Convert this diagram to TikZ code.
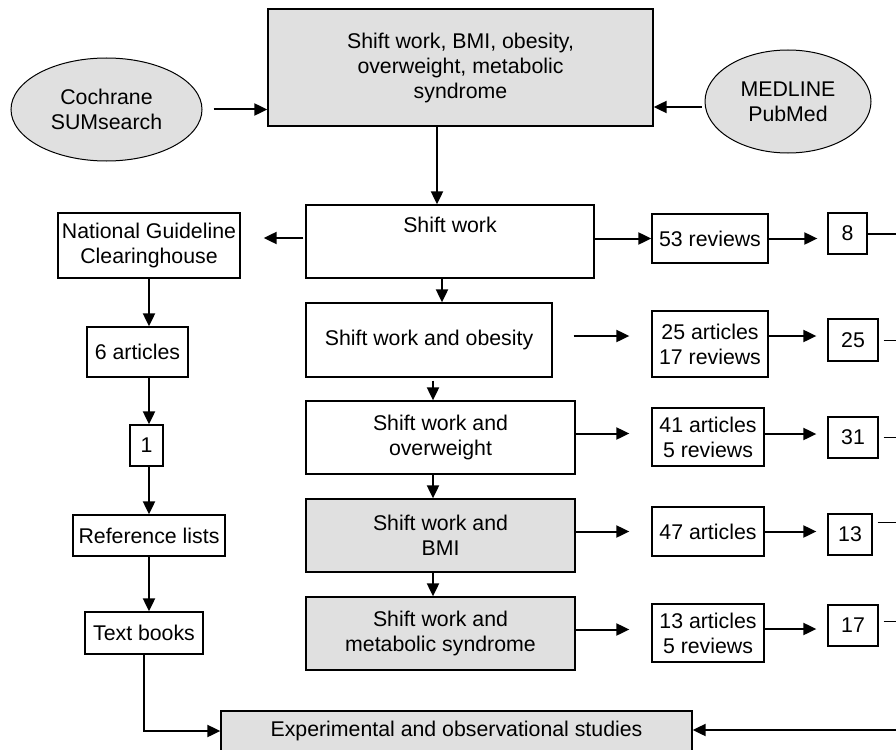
\documentclass[tikz,border=0pt]{standalone}
\usepackage{fontspec}
\setmainfont{Liberation Sans}
\usetikzlibrary{arrows.meta,shapes.geometric}
\definecolor{boxgray}{RGB}{224,224,224}
\begin{document}
\begin{tikzpicture}[x=1pt,y=-1pt,
box/.style={draw,line width=1.3pt,inner sep=0pt,align=center,font=\fontsize{21.3}{25}\selectfont},
graybox/.style={box,fill=boxgray},
src/.style={ellipse,draw,line width=1pt,fill=boxgray,inner sep=0pt,align=center,font=\fontsize{21.3}{25}\selectfont},
arr/.style={line width=2pt,-{Triangle[length=13pt,width=12pt]}},
outline/.style={line width=2pt},
thinline/.style={line width=1pt}]
\useasboundingbox (0,0) rectangle (896,749);

\node[graybox,minimum width=385pt,minimum height=117pt] (top) at (460.5,67.5) {Shift work, BMI, obesity,\\overweight, metabolic\\syndrome};
\node[src,minimum width=191pt,minimum height=103pt] (coch) at (106.5,109.5) {Cochrane\\SUMsearch};
\node[src,minimum width=166pt,minimum height=103pt] (med) at (788,101.5) {MEDLINE\\PubMed};

\node[box,minimum width=288pt,minimum height=73pt,text depth=33pt] (shift) at (450,241.5) {Shift work};
\node[box,minimum width=246pt,minimum height=74pt] (obes) at (429,340) {Shift work and obesity};
\node[box,minimum width=269pt,minimum height=73pt] (over) at (440.5,437.5) {Shift work and\\overweight};
\node[graybox,minimum width=269pt,minimum height=73pt] (bmi) at (440.5,535.5) {Shift work and\\BMI};
\node[graybox,minimum width=269pt,minimum height=73pt] (meta) at (440.5,633.5) {Shift work and\\metabolic syndrome};

\node[box,minimum width=182pt,minimum height=65pt] (ngc) at (149,245.5) {National Guideline\\Clearinghouse};
\node[box,minimum width=101pt,minimum height=50pt] (six) at (137.5,352) {6 articles};
\node[box,minimum width=33pt,minimum height=41pt] (one) at (146.5,445.5) {1};
\node[box,minimum width=152pt,minimum height=41pt] (refs) at (149,535.5) {Reference lists};
\node[box,minimum width=118pt,minimum height=42pt] (books) at (144,633) {Text books};

\node[box,minimum width=116pt,minimum height=49pt] (rev) at (710,238.5) {53 reviews};
\node[box,minimum width=116pt,minimum height=66pt] (obesn) at (710,344) {25 articles\\17 reviews};
\node[box,minimum width=112pt,minimum height=58pt] (overn) at (708,437) {41 articles\\5 reviews};
\node[box,minimum width=112pt,minimum height=49pt] (bmin) at (708,531.5) {47 articles};
\node[box,minimum width=112pt,minimum height=58pt] (metan) at (708,633) {13 articles\\5 reviews};

\node[box,minimum width=39pt,minimum height=41pt] (kept1) at (847.5,233.5) {8};
\node[box,minimum width=50pt,minimum height=42pt] (kept2) at (853,340) {25};
\node[box,minimum width=50pt,minimum height=41pt] (kept3) at (853,437.5) {31};
\node[box,minimum width=44pt,minimum height=41pt] (kept4) at (850,534.5) {13};
\node[box,minimum width=50pt,minimum height=41pt] (kept5) at (853,625.5) {17};

\node[graybox,minimum width=471pt,minimum height=40pt] (exp) at (456.5,731) {Experimental and observational studies};
\coordinate (rim) at (896,730);

\draw[arr,shorten <=11pt] (coch.east) -- (coch.east -| top.west);
\draw[arr,shorten <=3pt] ([yshift=-5.5pt]med.west) -- ([yshift=-5.5pt]med.west -| top.east);
\draw[arr] ([xshift=-23.5pt]top.south) -- ([xshift=-23.5pt]top.south |- shift.north);
\draw[arr,shorten <=2pt,shorten >=23pt] ([yshift=3.5pt]shift.west) -- ([yshift=3.5pt]shift.west -| ngc.east);
\draw[arr] ([yshift=3pt]shift.east) -- ([yshift=3pt]shift.east -| rev.west);
\draw[arr,shorten >=10pt] (rev.east) -- (rev.east -| kept1.west);
\draw[outline] (kept1.east) -- (kept1.east -| rim);

\draw[arr] ([xshift=-8pt]shift.south) -- ([xshift=-8pt]shift.south |- obes.north);
\draw[arr,shorten <=3pt] ([xshift=4pt]obes.south) -- ([xshift=4pt]obes.south |- over.north);
\draw[arr] ([xshift=-7.5pt]over.south) -- ([xshift=-7.5pt]over.south |- bmi.north);
\draw[arr] ([xshift=-7.5pt]bmi.south) -- ([xshift=-7.5pt]bmi.south |- meta.north);

\draw[arr,shorten <=21pt,shorten >=22pt] ([yshift=4pt]obes.east) -- ([yshift=4pt]obes.east -| obesn.west);
\foreach \a/\b in {over/overn,bmi/bmin,meta/metan}
  \draw[arr,shorten >=22pt] ([yshift=4pt]\a.east) -- ([yshift=4pt]\a.east -| \b.west);
\foreach \a/\b/\s in {obesn/kept2/8,overn/kept3/3,bmin/kept4/0,metan/kept5/4}
  \draw[arr,shorten >=11pt] ([yshift=\s pt]\a.east) -- ([yshift=\s pt]\a.east -| \b.west);
\foreach \b/\s in {kept2/0,kept3/0,kept4/12.5,kept5/4.5}
  \draw[thinline,shorten <=5pt] ([yshift=\s pt]\b.east) -- ([yshift=\s pt]\b.east -| rim);

\draw[arr] (ngc.south) -- (ngc.south |- six.north);
\draw[arr] (six.south -| ngc) -- (one.north -| ngc);
\draw[arr] (one.south -| ngc) -- (refs.north -| ngc);
\draw[arr] (refs.south) -- (refs.south |- books.north);
\draw[arr] (books.south) |- (exp.west);
\draw[arr] (rim) -- (rim -| exp.east);
\end{tikzpicture}
\end{document}
